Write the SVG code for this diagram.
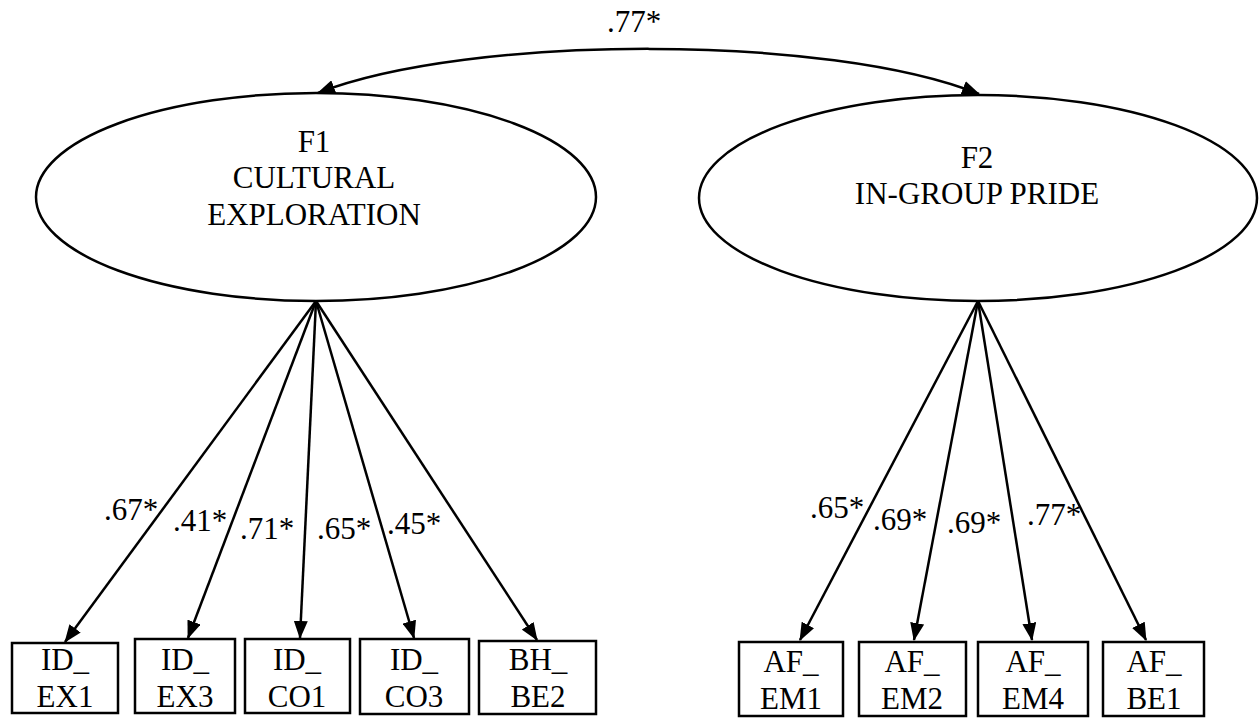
<svg xmlns="http://www.w3.org/2000/svg" width="1259" height="719" viewBox="0 0 1259 719">
<style>
text{font-family:'Liberation Serif','Times New Roman','DejaVu Serif',serif;font-size:31px;fill:#000;text-anchor:middle}
.n{fill:#fff;stroke:#000;stroke-width:2.5}
.c{fill:none;stroke:#000;stroke-width:2.5}
</style>
<defs>
<marker id="ah" viewBox="0 0 18 14" refX="17" refY="7" markerWidth="18" markerHeight="14" markerUnits="userSpaceOnUse" orient="auto-start-reverse">
<path d="M0,0 L18,7 L0,14 Z" fill="#000"/>
</marker>
</defs>
<rect width="1259" height="719" fill="#fff"/>
<g id="connectors" font-family="'Liberation Serif', serif">
<path class="c" d="M318,93 C470,34 830,34 979,94" marker-start="url(#ah)" marker-end="url(#ah)"/>
<line class="c" x1="316" y1="301" x2="65" y2="642" marker-end="url(#ah)"/>
<line class="c" x1="316" y1="301" x2="188" y2="638" marker-end="url(#ah)"/>
<line class="c" x1="316" y1="301" x2="300" y2="638" marker-end="url(#ah)"/>
<line class="c" x1="316" y1="301" x2="414" y2="638" marker-end="url(#ah)"/>
<line class="c" x1="316" y1="301" x2="537" y2="640" marker-end="url(#ah)"/>
<line class="c" x1="978" y1="301" x2="800" y2="640" marker-end="url(#ah)"/>
<line class="c" x1="978" y1="301" x2="914" y2="640" marker-end="url(#ah)"/>
<line class="c" x1="978" y1="301" x2="1032" y2="640" marker-end="url(#ah)"/>
<line class="c" x1="978" y1="301" x2="1146" y2="640" marker-end="url(#ah)"/>
<text x="634" y="32">.77*</text>
<text x="131" y="520">.67*</text>
<text x="200" y="531">.41*</text>
<text x="267" y="539">.71*</text>
<text x="344" y="539">.65*</text>
<text x="414" y="534">.45*</text>
<text x="837" y="518">.65*</text>
<text x="900" y="530">.69*</text>
<text x="974" y="533">.69*</text>
<text x="1054" y="525">.77*</text>
</g>
<g id="F1">
<ellipse class="n" cx="316" cy="197" rx="280" ry="104"/>
<text x="314" y="152">F1</text>
<text x="314" y="188">CULTURAL</text>
<text x="314" y="225">EXPLORATION</text>
</g>
<g id="F2">
<ellipse class="n" cx="978" cy="198" rx="279" ry="103"/>
<text x="977" y="168">F2</text>
<text x="977" y="204">IN-GROUP PRIDE</text>
</g>
<g id="ID_EX1"><rect class="n" x="12" y="643" width="106" height="70"/><text x="65" y="670">ID_</text><text x="65" y="707">EX1</text></g>
<g id="ID_EX3"><rect class="n" x="135" y="639" width="100" height="74"/><text x="185" y="670">ID_</text><text x="185" y="707">EX3</text></g>
<g id="ID_CO1"><rect class="n" x="245" y="639" width="105" height="74"/><text x="297" y="670">ID_</text><text x="297" y="707">CO1</text></g>
<g id="ID_CO3"><rect class="n" x="360" y="639" width="109" height="75"/><text x="414" y="670">ID_</text><text x="414" y="707">CO3</text></g>
<g id="BH_BE2"><rect class="n" x="479" y="641" width="117" height="73"/><text x="538" y="670">BH_</text><text x="538" y="707">BE2</text></g>
<g id="AF_EM1"><rect class="n" x="739" y="642" width="104" height="74"/><text x="791" y="672">AF_</text><text x="791" y="709">EM1</text></g>
<g id="AF_EM2"><rect class="n" x="859" y="642" width="107" height="74"/><text x="912" y="672">AF_</text><text x="912" y="709">EM2</text></g>
<g id="AF_EM4"><rect class="n" x="978" y="642" width="110" height="74"/><text x="1033" y="672">AF_</text><text x="1033" y="709">EM4</text></g>
<g id="AF_BE1"><rect class="n" x="1103" y="642" width="101" height="74"/><text x="1154" y="672">AF_</text><text x="1154" y="709">BE1</text></g>
</svg>
